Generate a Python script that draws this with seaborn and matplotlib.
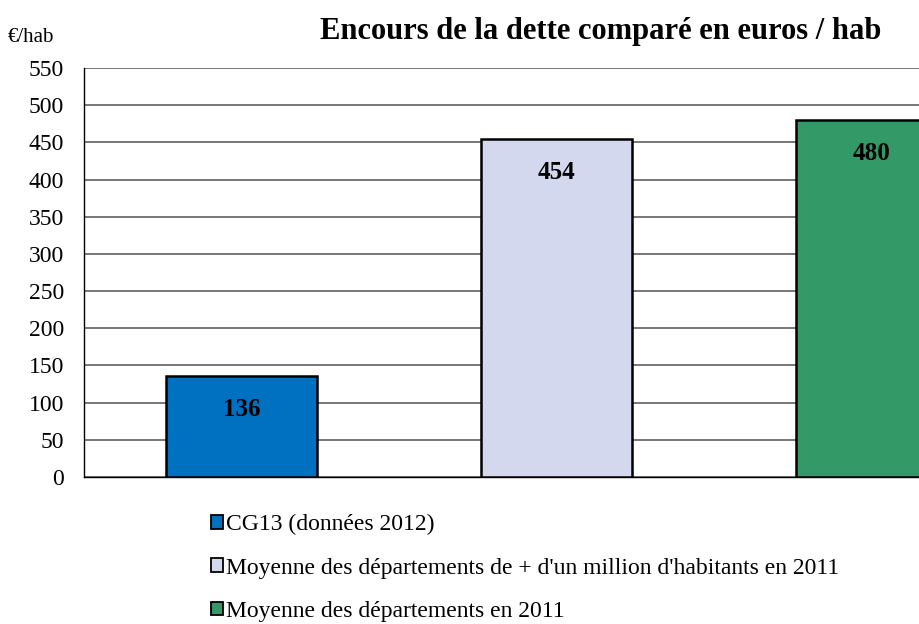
import matplotlib
matplotlib.use("Agg")
import matplotlib.pyplot as plt
import seaborn as sns
import pandas as pd
from matplotlib.patches import Patch

categories = ["CG13 (données 2012)",
              "Moyenne des départements de + d'un million d'habitants en 2011",
              "Moyenne des départements en 2011"]
values = [136, 454, 480]
colors = ["#0070C0", "#D3D8EE", "#339966"]
yticks = list(range(0, 551, 50))

sns.set_style("white")
plt.rcParams['font.family'] = ['Liberation Serif', 'DejaVu Serif']
plt.rcParams['text.color'] = 'black'
plt.rcParams['xtick.color'] = 'black'
plt.rcParams['ytick.color'] = 'black'

df = pd.DataFrame({"cat": categories, "val": values})

fig = plt.figure(figsize=(9.2, 6.24), dpi=100)
ax = fig.add_axes([84/920, 1-477/624, 945/920, 409/624])

sns.barplot(data=df, x="cat", y="val", hue="cat", palette=colors, width=0.48,
            saturation=1, edgecolor="black", linewidth=1.8, legend=False, ax=ax, zorder=3)

ax.set_ylim(0, 550)
ax.set_xlim(-0.5, 2.5)
ax.set_yticks(yticks)
ax.set_yticklabels([str(v) for v in yticks], fontsize=17)
ax.yaxis.grid(True, color="#606060", linewidth=1.2, zorder=0)
ax.set_axisbelow(True)
ax.set_xticks([-0.5, 0.5, 1.5, 2.5])
ax.set_xticklabels([])
ax.tick_params(axis="x", direction="out", length=7, width=1, color="black")
ax.tick_params(axis="y", direction="out", length=6.5, width=1, color="black", pad=8)
ax.set_xlabel("")
ax.set_ylabel("")
for s in ["top", "right"]:
    ax.spines[s].set_visible(False)
for s in ["left", "bottom"]:
    ax.spines[s].set_color("black")
    ax.spines[s].set_linewidth(1.0)

for i, v in enumerate(values):
    ax.annotate(str(v), (i, v), xytext=(0, -24), textcoords="offset points",
                ha="center", va="center", fontsize=18, fontweight="bold")

fig.text(601/920, 1-31/624, "Encours de la dette comparé en euros / hab",
         ha="center", va="center", fontsize=22, fontweight="bold")
fig.text(8/920, 1-37/624, "€/hab", ha="left", va="center", fontsize=15)

handles = [Patch(facecolor=c, edgecolor="black", linewidth=1.3) for c in colors]
fig.legend(handles, categories, loc="upper left", bbox_to_anchor=(211/920, 1-514/624),
           frameon=False, fontsize=17, handlelength=0.5, handleheight=0.5,
           handletextpad=0.15, labelspacing=0.95, borderaxespad=0, borderpad=0)

fig.savefig("out.png", dpi=100)
